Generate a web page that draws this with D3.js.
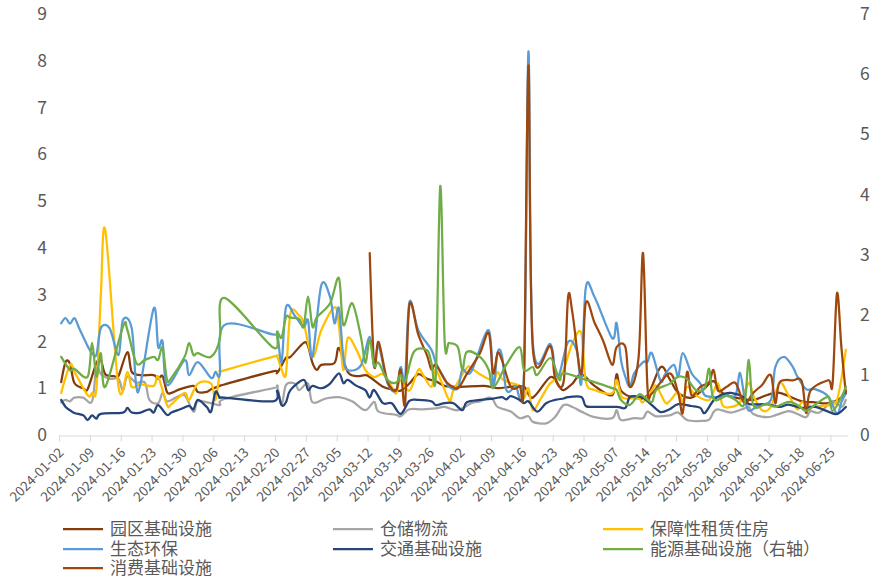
<!DOCTYPE html>
<html><head><meta charset="utf-8">
<script src="https://cdn.jsdelivr.net/npm/d3@7"></script>
<style>
body{margin:0;background:#fff}
text{font-family:"Noto Sans CJK SC","Noto Sans",sans-serif}
</style>
</head><body>
<svg id="chart" width="895" height="578"></svg>
<script>
// ---------------- data ----------------
const seriesNames = ["园区基础设施","仓储物流","保障性租赁住房","生态环保","交通基础设施","能源基础设施（右轴）","消费基础设施"];
const seriesColors = ["#843C0C","#A5A5A5","#FFC000","#5B9BD5","#264478","#70AD47","#9E480E"];
const leftTicks = [0,1,2,3,4,5,6,7,8,9];
const rightTicks = [0,1,2,3,4,5,6,7];
const tickLabels = ["2024-01-02","2024-01-09","2024-01-16","2024-01-23","2024-01-30","2024-02-06","2024-02-13","2024-02-20","2024-02-27","2024-03-05","2024-03-12","2024-03-19","2024-03-26","2024-04-02","2024-04-09","2024-04-16","2024-04-23","2024-04-30","2024-05-07","2024-05-14","2024-05-21","2024-05-28","2024-06-04","2024-06-11","2024-06-18","2024-06-25"];

const parkData = [["01-02",1.13],["01-03",1.56],["01-04",1.52],["01-05",1.11],["01-07",1.0],["01-08",0.98],["01-10",1.54],["01-11",1.6],["01-12",1.3],["01-14",1.26],["01-15",1.26],["01-17",1.77],["01-18",1.35],["01-20",1.28],["01-23",1.28],["01-24",1.2],["01-25",1.26],["01-26",0.92],["01-27",0.9],["01-29",0.98],["02-01",1.05],["02-02",0.92],["02-04",0.92],["02-05",0.98],["02-07",1.05],["02-08",1.08],["02-19",1.36],["02-20",1.33],["02-22",1.65],["02-23",1.67],["02-26",1.97],["02-27",1.9],["02-28",1.54],["02-29",1.39],["03-01",1.5],["03-04",1.54],["03-05",1.86],["03-07",1.35],["03-09",1.26],["03-11",1.28],["03-12",1.24],["03-15",1.03],["03-17",0.98],["03-19",0.95],["03-21",1.1],["03-23",1.3],["03-25",1.2],["03-27",1.15],["03-29",1.05],["04-01",1.03],["04-07",1.05],["04-10",1.0],["04-13",1.03],["04-16",1.03],["04-18",0.8],["04-22",1.24],["04-24",1.03],["04-25",0.96],["04-27",1.1],["04-29",1.3],["05-02",1.05],["05-06",0.85],["05-07",1.3],["05-08",0.95],["05-11",0.8],["05-14",0.85],["05-17",1.45],["05-19",1.2],["05-21",0.9],["05-24",0.8],["05-27",1.0],["05-29",1.15],["05-31",0.9],["06-03",0.8],["06-07",0.75],["06-10",0.85],["06-13",0.9],["06-18",0.72],["06-21",0.7],["06-24",0.68],["06-27",0.8],["06-28",0.95]];

const logisticsData = [["01-02",0.7],["01-03",0.75],["01-04",0.72],["01-05",0.8],["01-07",0.8],["01-09",0.72],["01-10",1.45],["01-11",1.3],["01-13",1.2],["01-15",1.2],["01-16",0.95],["01-17",1.25],["01-19",1.12],["01-21",1.12],["01-22",0.75],["01-24",0.68],["01-25",0.9],["01-26",0.72],["01-28",0.8],["01-30",0.85],["02-01",0.5],["02-02",0.72],["02-05",0.68],["02-07",0.64],["02-08",0.77],["02-19",1.0],["02-20",1.03],["02-21",0.64],["02-22",1.07],["02-24",1.1],["02-25",0.96],["02-27",1.1],["02-28",0.7],["03-02",0.78],["03-05",0.81],["03-08",0.72],["03-11",0.53],["03-13",0.71],["03-14",0.5],["03-18",0.43],["03-19",0.4],["03-21",0.55],["03-24",0.55],["03-27",0.57],["03-29",0.6],["04-01",0.53],["04-04",0.68],["04-06",0.72],["04-08",0.8],["04-09",0.75],["04-10",0.6],["04-13",0.5],["04-15",0.36],["04-17",0.4],["04-18",0.28],["04-21",0.25],["04-23",0.38],["04-25",0.64],["04-27",0.6],["04-29",0.5],["05-02",0.38],["05-06",0.36],["05-07",0.53],["05-08",0.32],["05-11",0.36],["05-13",0.36],["05-14",0.5],["05-16",0.4],["05-19",0.42],["05-21",0.48],["05-23",0.32],["05-26",0.3],["05-28",0.33],["05-29",0.49],["05-30",0.55],["06-02",0.48],["06-05",0.57],["06-06",0.6],["06-07",0.45],["06-10",0.38],["06-12",0.42],["06-15",0.51],["06-17",0.45],["06-19",0.38],["06-20",0.51],["06-22",0.48],["06-25",0.72],["06-27",0.6],["06-28",0.75]];

const housingData = [["01-02",0.9],["01-04",1.5],["01-05",1.35],["01-08",0.85],["01-09",0.9],["01-10",1.0],["01-11",3.0],["01-12",4.38],["01-15",1.03],["01-17",1.35],["01-18",1.03],["01-20",1.08],["01-23",1.05],["01-24",1.25],["01-26",0.64],["01-27",0.66],["01-30",0.9],["01-31",0.75],["02-02",1.1],["02-05",1.1],["02-06",0.75],["02-07",1.32],["02-08",1.38],["02-19",1.67],["02-20",1.67],["02-21",1.4],["02-22",1.32],["02-23",2.6],["02-25",2.55],["02-26",2.4],["02-28",1.67],["03-01",2.24],["03-04",2.73],["03-05",2.35],["03-06",1.39],["03-07",2.07],["03-09",1.82],["03-11",1.39],["03-13",1.24],["03-15",1.3],["03-17",1.03],["03-18",0.89],["03-19",1.17],["03-21",0.95],["03-23",1.39],["03-24",1.3],["03-26",1.03],["03-27",1.39],["03-30",0.75],["03-31",0.96],["04-03",1.43],["04-04",1.43],["04-06",1.3],["04-09",1.17],["04-10",1.35],["04-11",1.2],["04-13",1.11],["04-15",1.05],["04-16",0.79],["04-17",1.0],["04-18",0.53],["04-20",0.81],["04-22",1.11],["04-24",1.24],["04-25",1.39],["04-27",1.97],["04-29",2.18],["04-30",1.15],["05-02",0.96],["05-06",0.89],["05-07",1.18],["05-08",0.85],["05-09",0.78],["05-12",0.78],["05-13",0.7],["05-15",0.96],["05-16",1.05],["05-18",0.7],["05-19",0.72],["05-21",0.92],["05-22",0.71],["05-23",1.03],["05-25",0.85],["05-28",0.75],["05-30",1.11],["05-31",0.64],["06-02",0.6],["06-04",0.7],["06-06",1.11],["06-07",0.85],["06-09",0.53],["06-11",0.6],["06-13",1.11],["06-15",0.85],["06-17",0.55],["06-18",0.7],["06-20",0.62],["06-22",0.62],["06-25",0.65],["06-26",0.75],["06-27",1.2],["06-28",1.82]];

const ecoData = [["01-02",2.39],["01-03",2.5],["01-04",2.38],["01-05",2.5],["01-06",2.3],["01-08",1.9],["01-09",1.75],["01-10",1.72],["01-11",2.29],["01-13",2.28],["01-15",1.71],["01-16",2.46],["01-18",2.28],["01-19",1.07],["01-20",1.1],["01-23",2.71],["01-24",1.88],["01-25",2.0],["01-26",1.07],["01-30",1.6],["01-31",1.28],["02-02",1.56],["02-05",1.22],["02-06",1.35],["02-07",1.3],["02-08",2.35],["02-19",2.15],["02-20",2.18],["02-21",1.56],["02-22",2.73],["02-24",2.55],["02-26",2.31],["02-27",2.45],["02-28",1.67],["03-01",3.2],["03-03",2.95],["03-04",2.39],["03-05",2.71],["03-06",1.67],["03-07",1.39],["03-10",1.49],["03-12",2.1],["03-13",1.45],["03-14",1.9],["03-16",1.11],["03-18",0.95],["03-19",1.45],["03-20",1.2],["03-21",2.84],["03-23",2.24],["03-26",1.82],["03-27",1.54],["03-29",1.2],["03-30",1.03],["04-01",1.0],["04-02",1.39],["04-04",1.35],["04-08",2.24],["04-09",1.03],["04-10",1.77],["04-11",1.7],["04-12",0.96],["04-14",1.05],["04-16",1.32],["04-17",8.2],["04-18",1.97],["04-22",1.94],["04-23",1.39],["04-24",1.3],["04-26",1.99],["04-28",1.8],["04-29",1.11],["04-30",3.14],["05-02",2.95],["05-06",2.07],["05-07",2.39],["05-08",1.6],["05-09",1.24],["05-10",1.03],["05-11",1.32],["05-13",1.56],["05-14",1.56],["05-15",1.75],["05-17",1.15],["05-18",1.3],["05-20",1.5],["05-21",1.25],["05-22",1.75],["05-24",1.32],["05-26",1.1],["05-27",0.85],["05-30",0.81],["06-01",0.85],["06-03",0.85],["06-04",1.33],["06-05",0.81],["06-06",0.52],["06-08",0.62],["06-11",0.75],["06-12",1.45],["06-14",1.67],["06-16",1.45],["06-17",1.25],["06-19",0.98],["06-21",0.98],["06-24",0.83],["06-26",0.45],["06-27",0.7],["06-28",0.89]];

const transportData = [["01-02",0.75],["01-03",0.6],["01-04",0.53],["01-05",0.47],["01-07",0.42],["01-08",0.32],["01-09",0.42],["01-10",0.35],["01-11",0.45],["01-16",0.48],["01-17",0.58],["01-18",0.48],["01-20",0.48],["01-22",0.55],["01-23",0.48],["01-24",0.64],["01-26",0.43],["01-27",0.48],["01-29",0.55],["01-31",0.62],["02-01",0.55],["02-02",0.75],["02-04",0.6],["02-05",0.5],["02-06",0.92],["02-07",0.8],["02-08",0.8],["02-19",0.72],["02-20",0.95],["02-21",0.64],["02-22",0.7],["02-23",0.96],["02-26",1.18],["02-27",0.96],["02-28",1.05],["03-01",1.0],["03-03",1.1],["03-05",1.32],["03-06",1.11],["03-07",1.18],["03-09",1.05],["03-11",0.96],["03-12",0.8],["03-13",0.96],["03-15",0.68],["03-17",0.68],["03-19",0.45],["03-21",0.73],["03-23",0.75],["03-26",0.72],["03-27",0.64],["03-29",0.68],["03-31",0.68],["04-02",0.53],["04-03",0.7],["04-06",0.75],["04-09",0.78],["04-11",0.81],["04-12",0.76],["04-13",0.83],["04-15",0.75],["04-16",0.68],["04-17",0.72],["04-19",0.5],["04-21",0.68],["04-23",0.75],["04-25",0.78],["04-26",0.81],["04-29",0.81],["04-30",0.62],["05-02",0.6],["05-07",0.6],["05-09",0.58],["05-10",0.81],["05-12",0.82],["05-13",0.8],["05-15",0.64],["05-17",0.49],["05-19",0.55],["05-21",0.66],["05-24",0.62],["05-26",0.58],["05-27",0.47],["05-29",0.74],["05-31",0.87],["06-02",0.9],["06-05",0.8],["06-06",0.66],["06-10",0.66],["06-13",0.6],["06-15",0.65],["06-18",0.58],["06-21",0.6],["06-24",0.5],["06-26",0.45],["06-28",0.6]];

const energyData = [["01-02",1.3],["01-04",1.08],["01-05",1.1],["01-08",0.97],["01-09",1.53],["01-10",0.97],["01-11",1.36],["01-12",0.8],["01-16",1.8],["01-17",1.75],["01-19",1.2],["01-21",1.25],["01-23",1.3],["01-24",1.25],["01-25",1.45],["01-26",0.92],["01-27",0.95],["01-30",1.3],["01-31",1.53],["02-01",1.33],["02-02",1.36],["02-05",1.3],["02-07",1.6],["02-08",2.28],["02-19",1.46],["02-20",1.7],["02-21",1.62],["02-22",1.96],["02-23",1.95],["02-25",1.93],["02-26",1.8],["02-27",2.3],["02-28",1.8],["02-29",1.96],["03-03",2.19],["03-05",2.61],["03-06",1.83],["03-08",2.19],["03-10",1.63],["03-11",1.2],["03-12",1.58],["03-13",1.15],["03-14",1.2],["03-16",0.92],["03-18",0.87],["03-19",1.0],["03-20",0.88],["03-22",1.38],["03-25",1.41],["03-26",1.2],["03-27",1.0],["03-28",4.14],["03-29",1.55],["03-30",1.53],["04-01",1.46],["04-02",1.08],["04-03",1.38],["04-06",1.3],["04-08",1.08],["04-09",0.78],["04-12",1.17],["04-15",1.46],["04-16",1.08],["04-18",1.13],["04-19",1.0],["04-22",1.28],["04-24",0.92],["04-25",1.03],["04-30",0.92],["05-02",0.88],["05-06",0.78],["05-07",0.75],["05-08",0.58],["05-10",0.5],["05-12",0.67],["05-13",0.65],["05-15",0.55],["05-16",0.75],["05-19",0.85],["05-21",0.97],["05-23",0.93],["05-25",0.75],["05-27",0.78],["05-28",1.1],["05-29",0.6],["06-01",0.65],["06-03",0.58],["06-05",0.52],["06-06",1.25],["06-07",0.5],["06-10",0.52],["06-12",0.47],["06-15",0.55],["06-17",0.5],["06-19",0.4],["06-21",0.5],["06-24",0.63],["06-25",0.4],["06-27",0.63],["06-28",0.8]];

const consumerData = [["03-12",3.89],["03-13",1.5],["03-14",1.99],["03-16",1.15],["03-18",0.96],["03-19",1.4],["03-20",0.66],["03-21",2.78],["03-23",2.15],["03-25",1.7],["03-26",1.4],["03-27",1.5],["03-29",1.18],["03-30",1.08],["04-01",1.0],["04-03",1.3],["04-06",1.75],["04-08",2.18],["04-09",1.32],["04-10",1.75],["04-11",1.6],["04-13",1.03],["04-15",1.05],["04-16",1.25],["04-17",7.9],["04-18",1.85],["04-22",1.9],["04-23",1.24],["04-25",1.15],["04-26",2.95],["04-27",2.6],["04-29",1.3],["04-30",2.82],["05-02",2.4],["05-04",2.0],["05-06",1.5],["05-07",1.88],["05-09",1.88],["05-10",1.03],["05-12",1.67],["05-13",3.89],["05-14",1.03],["05-15",0.89],["05-19",1.32],["05-21",0.89],["05-22",0.47],["05-23",1.35],["05-24",0.85],["05-26",1.03],["05-28",1.13],["05-29",1.39],["05-30",0.95],["06-01",1.03],["06-03",1.11],["06-05",0.68],["06-07",0.9],["06-09",1.07],["06-11",1.28],["06-12",0.68],["06-13",1.13],["06-16",1.17],["06-18",1.15],["06-19",0.47],["06-20",0.95],["06-24",1.17],["06-25",1.1],["06-26",3.03],["06-27",1.88],["06-28",0.89]];

const seriesData = [parkData, logisticsData, housingData, ecoData, transportData, energyData, consumerData];
const seriesAxis = ["left","left","left","left","left","right","left"];
const drawOrder = [0,1,2,3,4,6,5];

// ---------------- chart ----------------
const svg = d3.select("#chart");
svg.append("rect").attr("width",895).attr("height",578).attr("fill","#fff");
const parse = d3.utcParse("%Y-%m-%d");
const X0 = 59, X1 = 848, YB = 435, YT = 14;
const x = d3.scaleUtc().domain([parse("2024-01-02"), parse("2024-06-29")]).range([X0, X1]);
const yL = d3.scaleLinear().domain([0, 9]).range([YB, YT]);
const yR = d3.scaleLinear().domain([0, 7]).range([YB, YT]);
const half = 12 * 3600 * 1000;
const labelColor = "#595959";

// x axis
const xAxis = d3.axisBottom(x)
  .tickValues(tickLabels.map(parse))
  .tickSize(6)
  .tickFormat(d3.utcFormat("%Y-%m-%d"));
const gx = svg.append("g").attr("transform", `translate(0,${YB + 0.5})`).call(xAxis);
gx.select(".domain").attr("stroke", "#D9D9D9").attr("stroke-width", 1).attr("d", `M${X0},0.5H${X1}`);
gx.selectAll(".tick line").attr("stroke", "#D9D9D9");
gx.selectAll(".tick text")
  .attr("fill", labelColor).attr("font-size", 13.5)
  .attr("text-anchor", "end")
  .attr("dy", null).attr("y", 0)
  .attr("transform", "translate(5,18) rotate(-45)");

// left axis
const gl = svg.append("g").attr("transform", `translate(${X0},0)`)
  .call(d3.axisLeft(yL).tickValues(leftTicks).tickSize(0).tickPadding(12).tickFormat(d3.format("d")));
gl.select(".domain").remove();
gl.selectAll(".tick text").attr("fill", labelColor).attr("font-size", 17.5);

// right axis
const gr = svg.append("g").attr("transform", `translate(${X1},0)`)
  .call(d3.axisRight(yR).tickValues(rightTicks).tickSize(0).tickPadding(12).tickFormat(d3.format("d")));
gr.select(".domain").remove();
gr.selectAll(".tick text").attr("fill", labelColor).attr("font-size", 17.5);

// lines
const plot = svg.append("g");
drawOrder.forEach(i => {
  const ys = seriesAxis[i] === "right" ? yR : yL;
  const pts = seriesData[i].map(([d, v]) => [new Date(+parse("2024-" + d) + half), v]);
  const line = d3.line().x(p => x(p[0])).y(p => ys(p[1])).curve(d3.curveCardinal.tension(0));
  plot.append("path").datum(pts).attr("d", line)
    .attr("fill", "none").attr("stroke", seriesColors[i])
    .attr("stroke-width", 2.25).attr("stroke-linejoin", "round").attr("stroke-linecap", "round");
});

// legend
const legCols = [63, 333, 603];
const legRows = [529, 549, 568];
const legend = svg.append("g");
seriesNames.forEach((name, i) => {
  const cx = legCols[i % 3], cy = legRows[Math.floor(i / 3)];
  legend.append("line").attr("x1", cx).attr("x2", cx + 40).attr("y1", cy).attr("y2", cy)
    .attr("stroke", seriesColors[i]).attr("stroke-width", 2.25);
  legend.append("text").attr("x", cx + 47).attr("y", cy).attr("dy", "0.35em")
    .attr("fill", labelColor).attr("font-size", 17).text(name);
});
</script>
</body></html>
